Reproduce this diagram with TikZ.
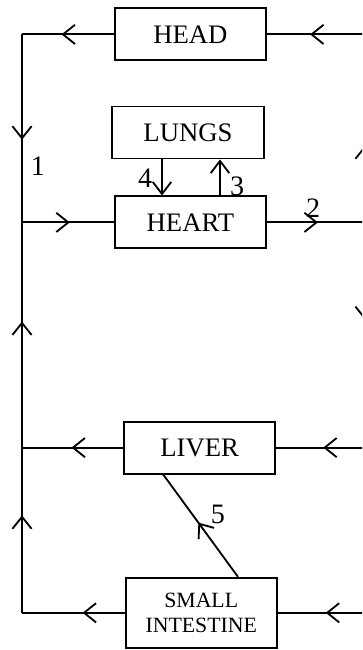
\documentclass[tikz,border=0pt]{standalone}
\usepackage{fontspec}
\setmainfont{Liberation Serif}
\usetikzlibrary{positioning, arrows.meta, decorations.markings}

\begin{document}
\begin{tikzpicture}[
    node distance=0.9cm,
    line width=1.3pt,
    organ/.style={
        draw,
        align=center,
        inner sep=0pt,
        minimum width=3.78cm,
        minimum height=1.3cm,
        font=\fontsize{19}{21}\selectfont
    },
    midarrow/.style={
        postaction={decorate},
        decoration={markings,
            mark=at position #1 with {\arrow{Straight Barb[length=3mm, width=4.8mm]}}}
    },
    arrow/.style={
        -{Straight Barb[length=3mm, width=4.6mm]}
    },
    num/.style={
        font=\fontsize{20}{22}\selectfont
    }
]

\useasboundingbox (0,0) rectangle (9.05,16.25);
\clip (0,0) rectangle (9.05,16.25);

\node[organ] (head) at (4.76,15.39) {HEAD};
\node[organ] (heart) at (4.76,10.69) {HEART};
\node[organ, above=of heart, xshift=-0.06cm] (lungs) {LUNGS};
\node[organ] (liver) at (4.99,5.06) {LIVER};
\node[organ, minimum height=1.75cm, font=\fontsize{15.5}{18}\selectfont] (intestine) at (5.03,0.93) {SMALL\\INTESTINE};

% left side
\coordinate (tl) at (0.55,15.39);
\coordinate (jh) at (0.55,10.69);
\coordinate (jl) at (0.55,5.06);
\coordinate (bl) at (0.55,0.93);
% right side (just off the page)
\coordinate (tr) at (9.125,15.39);
\coordinate (jr) at (9.125,10.69);
\coordinate (lr) at (9.125,5.06);
\coordinate (br) at (9.125,0.93);

\draw[midarrow=0.56] (tr) -- (head);
\draw[midarrow=0.57] (head) -- (tl);
\draw[midarrow=0.56] (tl) -- (jh);
\draw[midarrow=0.52] (jh) -- (heart);
\draw[midarrow=0.52] (heart) -- (jr);
\draw[midarrow=0.56] (jl) -- (jh);
\draw[midarrow=0.59] (bl) -- (jl);
\draw[midarrow=0.51] (liver) -- (jl);
\draw[midarrow=0.47] (lr) -- (liver);
\draw[midarrow=0.41] (intestine) -- (bl);
\draw[midarrow=0.45] (br) -- (intestine);
\draw[midarrow=0.41] (jr) -- (tr);
\draw[midarrow=0.25] (jr) -- (br);

\draw[midarrow=0.53] ([xshift=0.92cm]intestine.north) -- ([xshift=-0.91cm]liver.south);
\draw[arrow] ([xshift=-0.65cm]lungs.south) -- ([xshift=-0.65cm]lungs.south |- heart.north);
\draw[arrow] ([xshift=0.8cm]lungs.south |- heart.north) -- ([xshift=0.8cm]lungs.south);

\node[num] (n1) at (0.95,12.1) {1};
\node[num] (n2) at (7.83,11.05) {2};
\node[num] (n3) at (5.93,11.6) {3};
\node[num] (n4) at (3.63,11.8) {4};
\node[num] (n5) at (5.45,3.38) {5};

\end{tikzpicture}
\end{document}
